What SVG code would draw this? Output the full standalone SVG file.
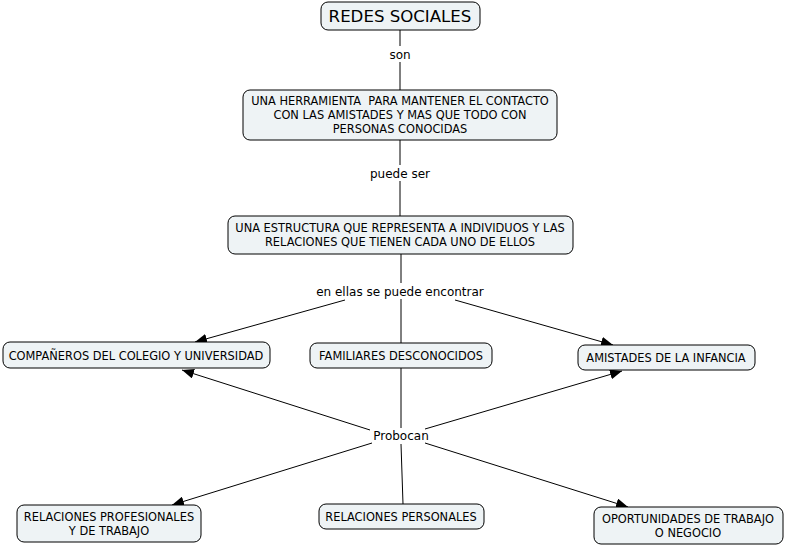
<svg xmlns="http://www.w3.org/2000/svg" width="785" height="547" viewBox="0 0 785 547">
<style>
.n rect{fill:#eef3f5;stroke:#000;stroke-width:1}
text{font-family:"DejaVu Sans",Verdana,sans-serif;font-size:11.4px;fill:#000;text-anchor:middle;white-space:pre}
.t{font-size:16.6px}
.c text{font-size:12px}
.c line{stroke:#000;stroke-width:1}
</style>
<defs>
<marker id="a" viewBox="0 0 12 10" refX="12" refY="5" markerWidth="12" markerHeight="10" markerUnits="userSpaceOnUse" orient="auto">
<path d="M0,0 L12,5 L0,10 z" fill="#000"/>
</marker>
</defs>
<rect width="785" height="547" fill="#fff"/>
<g class="c">
<line x1="400" y1="30" x2="400" y2="46"/>
<line x1="400" y1="62" x2="400" y2="90"/>
<line x1="400" y1="140" x2="400" y2="165"/>
<line x1="400" y1="181" x2="400" y2="216"/>
<line x1="401" y1="254" x2="401" y2="283"/>
<line x1="401" y1="299" x2="401" y2="343"/>
<line x1="345" y1="300" x2="195" y2="342" marker-end="url(#a)"/>
<line x1="455" y1="300" x2="613" y2="345" marker-end="url(#a)"/>
<line x1="401" y1="368" x2="401" y2="428"/>
<line x1="370" y1="430" x2="182" y2="370" marker-end="url(#a)"/>
<line x1="425" y1="429" x2="622" y2="371" marker-end="url(#a)"/>
<line x1="372" y1="443" x2="172" y2="505" marker-end="url(#a)"/>
<line x1="425" y1="443" x2="628" y2="507" marker-end="url(#a)"/>
<line x1="401" y1="444" x2="403" y2="504"/>
<text x="400" y="59">son</text>
<text x="400" y="178">puede ser</text>
<text x="400" y="296">en ellas se puede encontrar</text>
<text x="401" y="440">Probocan</text>
</g>
<g id="redes" class="n"><rect x="321" y="2" width="159" height="28" rx="7"/><text class="t" x="400" y="22">REDES SOCIALES</text></g>
<g id="herramienta" class="n"><rect x="243" y="90" width="314" height="50" rx="7"/><text x="400" y="105">UNA HERRAMIENTA  PARA MANTENER EL CONTACTO</text><text x="400" y="119">CON LAS AMISTADES Y MAS QUE TODO CON</text><text x="400" y="133">PERSONAS CONOCIDAS</text></g>
<g id="estructura" class="n"><rect x="228" y="216" width="345" height="38" rx="7"/><text x="400" y="232">UNA ESTRUCTURA QUE REPRESENTA A INDIVIDUOS Y LAS</text><text x="400" y="246">RELACIONES QUE TIENEN CADA UNO DE ELLOS</text></g>
<g id="companeros" class="n"><rect x="3" y="342" width="267" height="26" rx="7"/><text x="136" y="360">COMPAÑEROS DEL COLEGIO Y UNIVERSIDAD</text></g>
<g id="familiares" class="n"><rect x="310" y="343" width="182" height="25" rx="7"/><text x="401" y="360">FAMILIARES DESCONOCIDOS</text></g>
<g id="amistades" class="n"><rect x="578" y="345" width="177" height="25" rx="7"/><text x="666" y="362">AMISTADES DE LA INFANCIA</text></g>
<g id="profesionales" class="n"><rect x="17" y="505" width="184" height="37" rx="7"/><text x="109" y="521">RELACIONES PROFESIONALES</text><text x="109" y="535">Y DE TRABAJO</text></g>
<g id="personales" class="n"><rect x="319" y="504" width="165" height="25" rx="7"/><text x="401" y="521">RELACIONES PERSONALES</text></g>
<g id="oportunidades" class="n"><rect x="594" y="507" width="189" height="37" rx="7"/><text x="688" y="523">OPORTUNIDADES DE TRABAJO</text><text x="688" y="537">O NEGOCIO</text></g>
</svg>
